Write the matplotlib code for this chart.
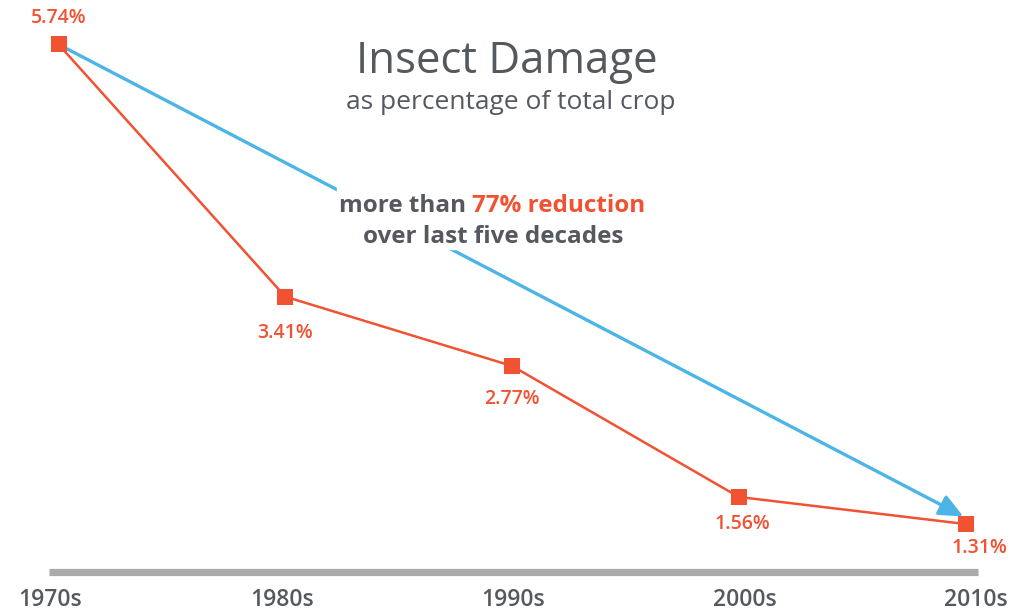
import numpy as np
from matplotlib import pyplot as plt

decades = ['1970s', '1980s', '1990s', '2000s', '2010s']
damage = [5.74, 3.41, 2.77, 1.56, 1.31]
labels = ['5.74%', '3.41%', '2.77%', '1.56%', '1.31%']

ORANGE = '#f05232'
BLUE = '#4cb5e6'
GREY = '#55595e'
BAR = '#aaaaaa'

plt.rcParams['font.family'] = ['Open Sans', 'DejaVu Sans']

fig = plt.figure(figsize=(10.11, 6.15), dpi=100)
ax = fig.add_axes([0, 0, 1, 1])
ax.set_xlim(-0.258, 4.200)
ax.set_ylim(0.47, 6.15)
ax.axis('off')

xs = np.arange(len(decades))

# trend arrow
ax.annotate('', xy=(xs[-1] - 0.01, damage[-1] + 0.07), xytext=(xs[0], damage[0]),
            arrowprops=dict(arrowstyle='-|>,head_length=1.45,head_width=0.65',
                            color=BLUE, lw=2.4, shrinkA=0, shrinkB=0),
            zorder=1)

ax.plot(xs, damage, color=ORANGE, lw=1.8, marker='s', markersize=11,
        markeredgewidth=0, zorder=3)

# value labels
offsets = [(0, 26), (0, -36), (0, -33), (3, -27), (14, -24)]
for x, y, lab, (dx, dy) in zip(xs, damage, labels, offsets):
    ax.annotate(lab, (x, y), xytext=(dx, dy), textcoords='offset pixels',
                ha='center', va='center', color=ORANGE, fontsize=14,
                fontweight='semibold')

# baseline bar
ax.plot([-0.04, 4.055], [0.87, 0.87], color=BAR, lw=5.2,
        solid_capstyle='butt', zorder=0)

# decade labels
for i, d in enumerate(decades):
    ax.text(-0.037 + i * 1.021, 0.61, d, ha='center', va='center',
            color=GREY, fontsize=16.5, fontweight='semibold')

# titles
fig.text(0.501, 0.899, 'Insect Damage', ha='center', va='center',
         color=GREY, fontsize=31.5, fontweight='normal')
fig.text(0.505, 0.833, 'as percentage of total crop', ha='center',
         va='center', color=GREY, fontsize=19, fontweight='normal')

# callout with white box over the arrow
box = plt.Rectangle((0.333, 0.595), 0.31, 0.105, transform=fig.transFigure,
                    color='white', zorder=4)
fig.patches.append(box)
t1 = fig.text(0, 0.665, 'more than ', ha='left', va='center',
              color=GREY, fontsize=17.5, fontweight='bold', zorder=5)
t2 = fig.text(0, 0.665, '77% reduction', ha='left', va='center',
              color=ORANGE, fontsize=17.5, fontweight='bold', zorder=5)
fig.canvas.draw()
w1 = t1.get_window_extent().width / fig.bbox.width
w2 = t2.get_window_extent().width / fig.bbox.width
x0 = 0.487 - (w1 + w2) / 2
t1.set_x(x0)
t2.set_x(x0 + w1)
fig.text(0.488, 0.615, 'over last five decades', ha='center', va='center',
         color=GREY, fontsize=17.5, fontweight='bold', zorder=5)

fig.savefig('out.png', dpi=100)
